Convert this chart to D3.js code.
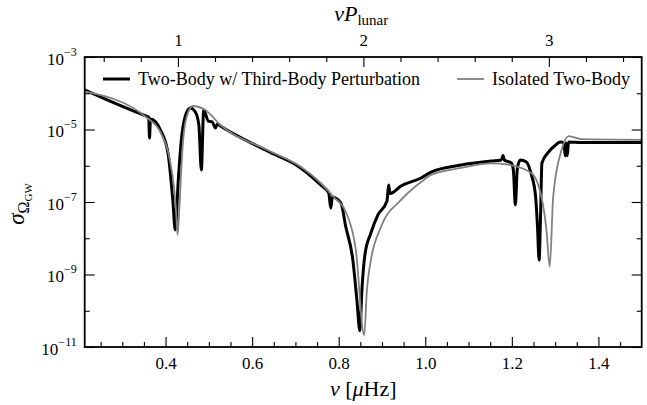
<!DOCTYPE html>
<html>
<head>
<meta charset="utf-8">
<script src="https://cdn.jsdelivr.net/npm/d3@7"></script>
<style>
body { margin: 0; background: #fff; }
svg { display: block; font-family: "Liberation Serif", "DejaVu Serif", serif; }
</style>
</head>
<body>
<svg id="chart" width="647" height="405"></svg>
<script>
// frequency in microHz, sigma
const nu_iso = [0.213, 0.3576, 0.3893, 0.4086, 0.4202, 0.4248, 0.4278, 0.4311, 0.434, 0.4394,
  0.448, 0.4626, 0.492, 0.5268, 0.635, 0.7122, 0.7585, 0.7887, 0.8165, 0.8397,
  0.8589, 0.8651, 0.8744, 0.8976, 0.944, 0.9903, 1.0135, 1.083, 1.1525, 1.1912,
  1.245, 1.2684, 1.28, 1.2876, 1.2955, 1.3148, 1.331, 1.3611, 1.5];
const sigma_iso = [1.12e-4, 2.07e-5, 8e-6, 1.74e-6, 2.14e-7, 4.4e-8, 1.23e-8, 4.4e-8, 2.14e-7, 3.29e-6,
  2.07e-5, 4.45e-5, 3.45e-5, 1.33e-5, 2.72e-6, 9.4e-7, 3.34e-7, 1.37e-7, 5.3e-8, 4.7e-9,
  2.1e-11, 3.7e-10, 2.5e-9, 2.04e-8, 1.14e-7, 3.56e-7, 5.56e-7, 8.7e-7, 1.17e-6, 1.07e-6,
  6.3e-7, 1.37e-7, 1.69e-8, 1.64e-9, 1.4e-7, 2.72e-6, 6.6e-6, 5.4e-6, 5.2e-6];

const nu_pert = [0.213, 0.3576, 0.3611, 0.3629, 0.3652, 0.3893, 0.4063, 0.4167, 0.4225, 0.4294,
  0.4364, 0.4457, 0.4572, 0.4688, 0.4769, 0.4827, 0.4881, 0.499, 0.5082, 0.5152,
  0.5198, 0.5268, 0.635, 0.7122, 0.7585, 0.777, 0.7817, 0.7852, 0.8049, 0.8165,
  0.8327, 0.842, 0.8489, 0.8536, 0.8605, 0.8744, 0.8906, 0.9115, 0.9154, 0.9185,
  0.944, 0.9903, 1.0135, 1.083, 1.1525, 1.1757, 1.1796, 1.1826, 1.1988, 1.2035,
  1.2081, 1.2128, 1.2197, 1.2336, 1.2452, 1.2545, 1.2591, 1.263, 1.2661, 1.2695,
  1.2846, 1.2985, 1.3124, 1.3205, 1.3233, 1.3255, 1.328, 1.331, 1.3611, 1.5];
const sigma_pert = [1.23e-4, 2.29e-5, 2.21e-5, 5.8e-6, 1.95e-5, 9.1e-6, 1.98e-6, 1.14e-7, 1.69e-8, 4.05e-7,
  5.1e-6, 2.35e-5, 3.92e-5, 3.04e-5, 1.33e-5, 7.6e-7, 3.45e-5, 1.71e-5, 1.61e-5, 1.1e-5,
  1.42e-5, 1.25e-5, 2.55e-6, 8.7e-7, 2.94e-7, 1.77e-7, 6.8e-8, 1.37e-7, 9.4e-8, 2.04e-8,
  2.5e-9, 2.0e-10, 2.8e-11, 3.7e-10, 3.45e-9, 1.4e-8, 4.4e-8, 1.07e-7, 2.94e-7, 1.71e-7,
  2.76e-7, 4.6e-7, 6.7e-7, 1.05e-6, 1.35e-6, 1.44e-6, 1.92e-6, 1.44e-6, 1.19e-6, 7.6e-7,
  8.3e-8, 8.7e-7, 1.44e-6, 1.27e-6, 5.6e-7, 1.56e-7, 2.3e-8, 2.5e-9, 3.2e-8, 1.19e-6,
  2.39e-6, 3.51e-6, 4.52e-6, 4.25e-6, 1.86e-6, 4.25e-6, 1.9e-6, 4.52e-6, 4.38e-6, 4.38e-6];

const x_range = [0.2132, 1.5];
const y_range = [1e-11, 1e-3];
const f_lunar = 0.4285;   // 1 / P_lunar in microHz
const x_ticks = [0.4, 0.6, 0.8, 1.0, 1.2, 1.4];
const x_tick_labels = ['0.4', '0.6', '0.8', '1.0', '1.2', '1.4'];
const top_ticks = [1, 2, 3];
const top_tick_labels = ['1', '2', '3'];
const y_major_exp = [-3, -5, -7, -9, -11];
const y_minor_exp = [-4, -6, -8, -10];
const legend_labels = ['Two-Body w/ Third-Body Perturbation', 'Isolated Two-Body'];

const m = {left: 84.7, right: 641.7, top: 57, bottom: 347};
const svg = d3.select('#chart');

const x = d3.scaleLinear().domain(x_range).range([m.left, m.right]);
const y = d3.scaleLog().domain(y_range).range([m.bottom, m.top]);
const xt = d3.scaleLinear().domain(x_range.map(v => v / f_lunar)).range([m.left, m.right]);

// minor tick positions
const x_minor = d3.range(4, 31).map(i => i * 0.05).filter(v => v > x_range[0] && v < x_range[1] && Math.abs(v * 5 - Math.round(v * 5)) > 1e-6);
const top_minor = d3.range(2, 18).map(i => i * 0.2).filter(v => Math.abs(v - Math.round(v)) > 1e-6 && v > xt.domain()[0] && v < xt.domain()[1]);

svg.append('defs').append('clipPath').attr('id', 'clip')
  .append('rect').attr('x', m.left).attr('y', m.top).attr('width', m.right - m.left).attr('height', m.bottom - m.top);

const line = d3.line().x(d => x(d[0])).y(d => y(d[1])).curve(d3.curveMonotoneX);
const plot = svg.append('g').attr('clip-path', 'url(#clip)');
plot.append('path').datum(d3.zip(nu_pert, sigma_pert)).attr('d', line)
  .attr('fill', 'none').attr('stroke', '#000').attr('stroke-width', 3).attr('stroke-linejoin', 'round');
plot.append('path').datum(d3.zip(nu_iso, sigma_iso)).attr('d', line)
  .attr('fill', 'none').attr('stroke', '#808080').attr('stroke-width', 1.8).attr('stroke-linejoin', 'round');

function styleAxis(g) {
  g.select('.domain').remove();
  g.attr('font-family', null);
  g.selectAll('line').attr('stroke', '#000').attr('stroke-width', 1.1);
  g.selectAll('text').attr('fill', '#000').style('font-family', '"Liberation Serif", serif').style('font-size', '17px');
}

// bottom
svg.append('g').attr('transform', `translate(0,${m.bottom})`)
  .call(d3.axisBottom(x).tickValues(x_ticks).tickSize(-10).tickPadding(10).tickFormat((d, i) => x_tick_labels[i]))
  .call(styleAxis);
svg.append('g').attr('transform', `translate(0,${m.bottom})`)
  .call(d3.axisBottom(x).tickValues(x_minor).tickSize(-5).tickFormat(''))
  .call(styleAxis);
// top (nu * P_lunar)
svg.append('g').attr('transform', `translate(0,${m.top})`)
  .call(d3.axisTop(xt).tickValues(top_ticks).tickSize(-10).tickPadding(11.5).tickFormat((d, i) => top_tick_labels[i]))
  .call(styleAxis);
svg.append('g').attr('transform', `translate(0,${m.top})`)
  .call(d3.axisTop(xt).tickValues(top_minor).tickSize(-5).tickFormat(''))
  .call(styleAxis);
// left
const yl = svg.append('g').attr('transform', `translate(${m.left},0)`)
  .call(d3.axisLeft(y).tickValues(y_major_exp.map(e => Math.pow(10, e))).tickSize(-10).tickPadding(8).tickFormat(''))
  .call(styleAxis);
yl.selectAll('.tick').each(function(d, i) {
  const t = d3.select(this).select('text').attr('dy', null).attr('y', 7).attr('x', -8);
  t.append('tspan').text('10');
  t.append('tspan').attr('dy', -9).style('font-size', '12px').text('\u2212' + (-y_major_exp[i]));
});
svg.append('g').attr('transform', `translate(${m.left},0)`)
  .call(d3.axisLeft(y).tickValues(y_minor_exp.map(e => Math.pow(10, e))).tickSize(-5).tickFormat(''))
  .call(styleAxis);
// right
svg.append('g').attr('transform', `translate(${m.right},0)`)
  .call(d3.axisRight(y).tickValues(y_major_exp.map(e => Math.pow(10, e))).tickSize(-10).tickFormat(''))
  .call(styleAxis);
svg.append('g').attr('transform', `translate(${m.right},0)`)
  .call(d3.axisRight(y).tickValues(y_minor_exp.map(e => Math.pow(10, e))).tickSize(-5).tickFormat(''))
  .call(styleAxis);

// frame
svg.append('rect').attr('x', m.left).attr('y', m.top).attr('width', m.right - m.left).attr('height', m.bottom - m.top)
  .attr('fill', 'none').attr('stroke', '#000').attr('stroke-width', 1.8);

// axis labels
const xlab = svg.append('text').attr('x', (m.left + m.right) / 2).attr('y', 396).attr('text-anchor', 'middle').style('font-size', '22px');
xlab.append('tspan').style('font-style', 'italic').text('\u03bd');
xlab.append('tspan').text(' [');
xlab.append('tspan').style('font-style', 'italic').text('\u03bc');
xlab.append('tspan').text('Hz]');

const tlab = svg.append('text').attr('x', (m.left + m.right) / 2 - 2).attr('y', 21).attr('text-anchor', 'middle').style('font-size', '22px');
tlab.append('tspan').style('font-style', 'italic').text('\u03bdP');
tlab.append('tspan').attr('dy', 4).style('font-size', '15px').text('lunar');

const ylab = svg.append('text').attr('transform', `translate(24,${(m.top + m.bottom) / 2 + 2}) rotate(-90)`)
  .attr('text-anchor', 'middle').style('font-size', '23px');
ylab.append('tspan').style('font-style', 'italic').text('\u03c3');
ylab.append('tspan').attr('dy', 5).style('font-size', '16px').text('\u03a9');
ylab.append('tspan').attr('dy', 3).style('font-size', '11px').text('GW');

// legend
const leg = svg.append('g');
const legItems = [
  {label: legend_labels[0], x0: 103, color: '#000', w: 3},
  {label: legend_labels[1], x0: 457, color: '#808080', w: 1.8}
];
legItems.forEach(it => {
  leg.append('line').attr('x1', it.x0).attr('x2', it.x0 + 27).attr('y1', 79).attr('y2', 79)
    .attr('stroke', it.color).attr('stroke-width', it.w);
  leg.append('text').attr('x', it.x0 + 35).attr('y', 85).style('font-size', '18px').text(it.label);
});
</script>
</body>
</html>
